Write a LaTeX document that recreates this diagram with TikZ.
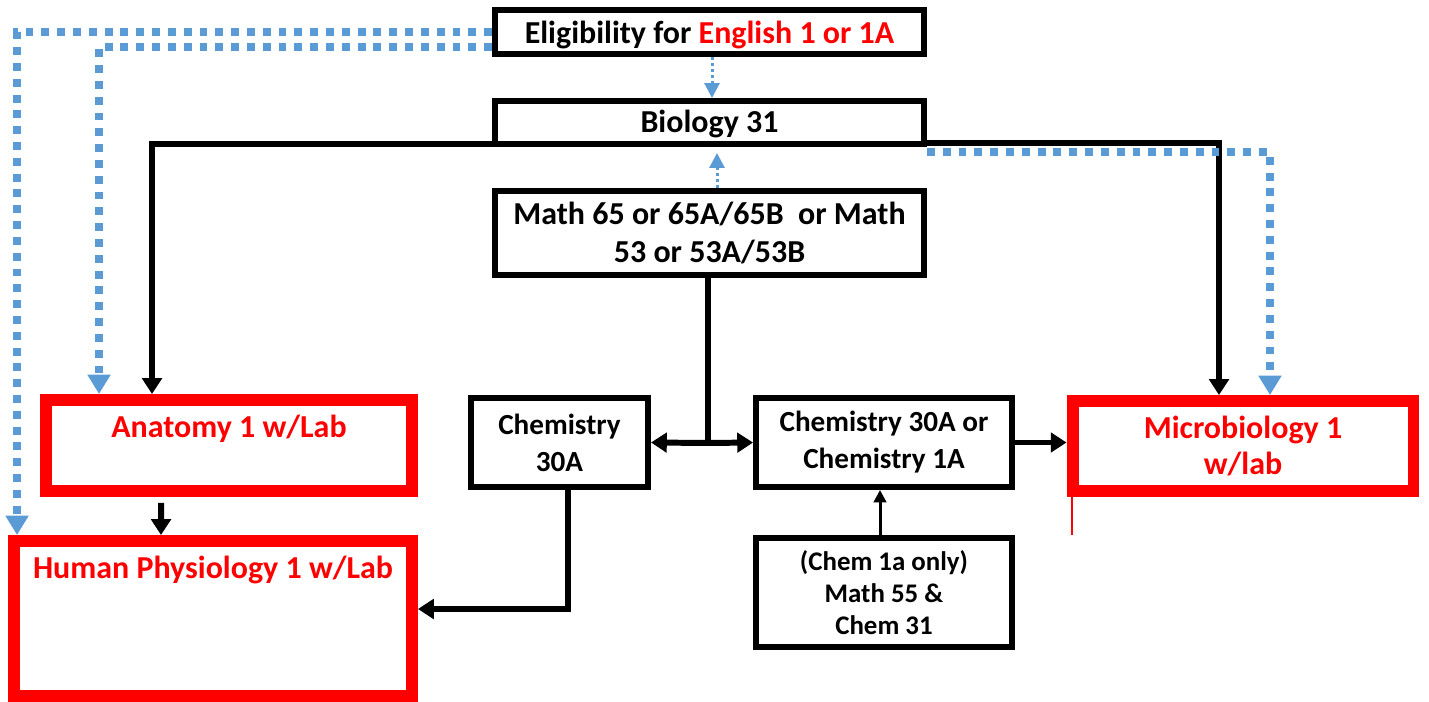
\documentclass[tikz,border=0pt]{standalone}
\usepackage{fontspec}
\setmainfont{Carlito}
\usepackage{xcolor}
\usetikzlibrary{arrows.meta}
\definecolor{linkblue}{HTML}{5B9BD5}

\begin{document}
\begin{tikzpicture}[x=0.02cm,y=-0.02cm,
  font=\fontsize{18.2}{21.5}\selectfont\bfseries,
  box/.style={rectangle,draw,line width=3.4pt,inner sep=0pt,align=center},
  redbox/.style={rectangle,draw=red,text=red,line width=6.8pt,inner sep=0pt,align=center},
  link/.style={line width=3.4pt,-{Triangle[width=11pt,length=9pt]}},
  thinlink/.style={line width=1.7pt,-{Triangle[width=7pt,length=7pt]}},
  dotlink/.style={linkblue,line width=4.5pt,dash pattern=on 4.5pt off 4.5pt,-{Triangle[width=12.5pt,length=11pt]}},
  thindot/.style={linkblue,line width=1.7pt,dash pattern=on 1.7pt off 1.7pt,-{Triangle[width=8.5pt,length=8.5pt]}}]
\useasboundingbox (0,0) rectangle (1429,702);
\node[box,minimum width=8.58cm,text height=0.68cm,text depth=0.2cm] (elig) at (709.5,32) {Eligibility for \textcolor{red}{English 1 or 1A}};
\node[box,minimum width=8.58cm,text height=0.64cm,text depth=0.22cm] (bio) at (709.5,122.5) {Biology 31};
\node[box,minimum width=8.58cm,minimum height=1.68cm] (math) at (709.5,233) {Math 65 or 65A/65B\ \ or Math\\53 or 53A/53B};
\node[box,minimum width=3.54cm,minimum height=1.78cm,font=\fontsize{16.6}{21}\selectfont\bfseries] (chemA) at (559.5,442.5) {Chemistry\\30A};
\node[box,minimum width=5.12cm,minimum height=1.78cm,font=\fontsize{16.6}{21}\selectfont\bfseries] (chemB) at (884,442.5) {Chemistry 30A or\\Chemistry 1A};
\node[box,minimum width=5.12cm,minimum height=2.18cm,font=\fontsize{15.3}{18}\selectfont\bfseries] (chemC) at (884,592.5) {(Chem 1a only)\\Math 55 \&\\Chem 31};
\node[redbox,minimum width=7.32cm,text height=0.74cm,text depth=1.08cm] (anat) at (229,445.5) {Anatomy 1 w/Lab};
\node[redbox,minimum width=7.96cm,text height=0.74cm,text depth=2.36cm] (phys) at (213,618.5) {Human Physiology 1 w/Lab};
\node[redbox,minimum width=6.82cm,minimum height=1.8cm,font=\fontsize{18.2}{21}\selectfont\bfseries] (micro) at (1243,446) {Microbiology 1\\w/lab};
\coordinate (mjoin) at (708,443);

% black prerequisite links
\draw[link] ([yshift=0.05cm]bio.south west) -| ([xshift=-1.54cm]anat.north);
\draw[link] ([yshift=-0.41cm]bio.east) -| ([xshift=-0.48cm]micro.north);
\draw[line width=3.4pt] (math.south -| mjoin) -- (mjoin);
\draw[link] (mjoin) -- (chemA.east);
\draw[link] (mjoin) -- (chemB.west);
\draw[link] (chemB.east) -- (chemB.east -| micro.west);
\draw[thinlink] ([xshift=-0.08cm]chemC.north) -- ([xshift=-0.08cm]chemB.south);
\draw[link] ([xshift=0.17cm]chemA.south) |- ([yshift=0.19cm]phys.east);
\draw[link] ([xshift=-1.36cm,yshift=-0.12cm]anat.south) -- ([xshift=-1.04cm]phys.north);

% blue dotted links
\draw[dotlink] (elig.west) -| ([xshift=-3.92cm]phys.north);
\draw[dotlink] ([yshift=-0.3cm]elig.west) -| ([xshift=-2.6cm]anat.north);
\draw[dotlink] ([yshift=-0.1cm]bio.south east) -| ([xshift=0.54cm]micro.north);
\draw[thindot] ([xshift=0.05cm]elig.south) -- ([xshift=0.05cm]bio.north);
\draw[thindot] ([xshift=0.15cm]math.north) -- ([xshift=0.15cm,yshift=-0.12cm]bio.south);

\draw[red,line width=0.9pt] ([xshift=0.11cm]micro.south west) -- ++(0,38);
\end{tikzpicture}
\end{document}
